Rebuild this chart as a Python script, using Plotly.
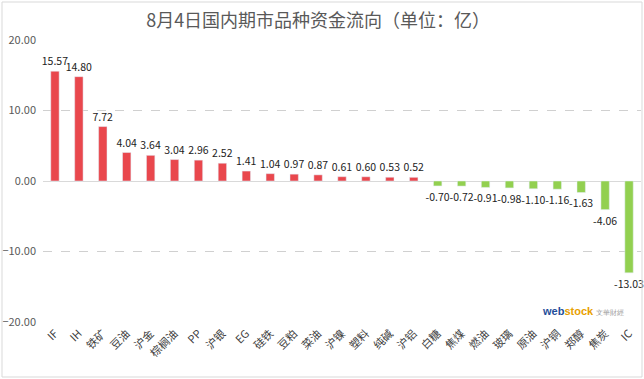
import plotly.graph_objects as go

categories = ["IF", "IH", "铁矿", "豆油", "沪金", "棕榈油", "PP", "沪银", "EG", "硅铁", "豆粕", "菜油",
              "沪镍", "塑料", "纯碱", "沪铝", "白糖", "焦煤", "燃油", "玻璃", "原油", "沪铜", "郑醇", "焦炭", "IC"]
values = [15.57, 14.80, 7.72, 4.04, 3.64, 3.04, 2.96, 2.52, 1.41, 1.04, 0.97, 0.87,
          0.61, 0.60, 0.53, 0.52, -0.70, -0.72, -0.91, -0.98, -1.10, -1.16, -1.63, -4.06, -13.03]
y_ticks = [-20, -10, 0, 10, 20]

colors = ["#E9474D" if v >= 0 else "#92D050" for v in values]

font_family = "Microsoft YaHei, Noto Sans CJK SC, sans-serif"

fig = go.Figure(go.Bar(
    x=categories, y=values, marker_color=colors, width=0.35,
    text=[f"{v:.2f}" for v in values], textposition="outside",
    constraintext="none",
    textfont=dict(size=10.5, color="#222222", family=font_family), cliponaxis=False,
))

fig.update_layout(
    width=644, height=379,
    margin=dict(l=43, r=3, t=40, b=57, autoexpand=False),
    paper_bgcolor="white", plot_bgcolor="white",
    font=dict(family=font_family, color="#595959"),
    title=dict(text="8月4日国内期市品种资金流向（单位：亿）", x=0.494, xanchor="center",
               xref="container", yref="container",
               y=0.945, yanchor="middle", font=dict(size=18, color="#595959", family=font_family)),
    showlegend=False,
)
fig.update_yaxes(range=[-20, 20], tickvals=y_ticks, tickformat=".2f", automargin=False,
                 showgrid=True, gridcolor="#D0D0D0", griddash="dash", gridwidth=1,
                 zeroline=True, zerolinecolor="#D9D9D9", zerolinewidth=1,
                 tickfont=dict(size=11, color="#595959"), ticks="", ticklabelstandoff=6)
fig.update_xaxes(tickangle=-45, tickfont=dict(size=11, color="#404040"), showgrid=False,
                 showline=False, ticks="", automargin=False, ticklabelstandoff=2)
fig.add_shape(type="rect", xref="paper", yref="paper",
              x0=-41/598, y0=-55/282, x1=1 + 1/598, y1=1 + 38/282,
              line=dict(color="#D9D9D9", width=1))
fig.add_annotation(text="<b><span style='color:#1F4E9A'>web</span><span style='color:#E8A000'>stock</span></b> <span style='color:#999;font-size:7px'>文華財經</span>",
                   xref="paper", yref="paper", x=0.975, y=0.04, xanchor="right", yanchor="middle",
                   showarrow=False, font=dict(size=11, family="Arial, sans-serif"))
fig.write_html("out.html", config={"displayModeBar": False},
               post_script="document.body.style.margin='0';document.body.style.overflow='hidden';")
